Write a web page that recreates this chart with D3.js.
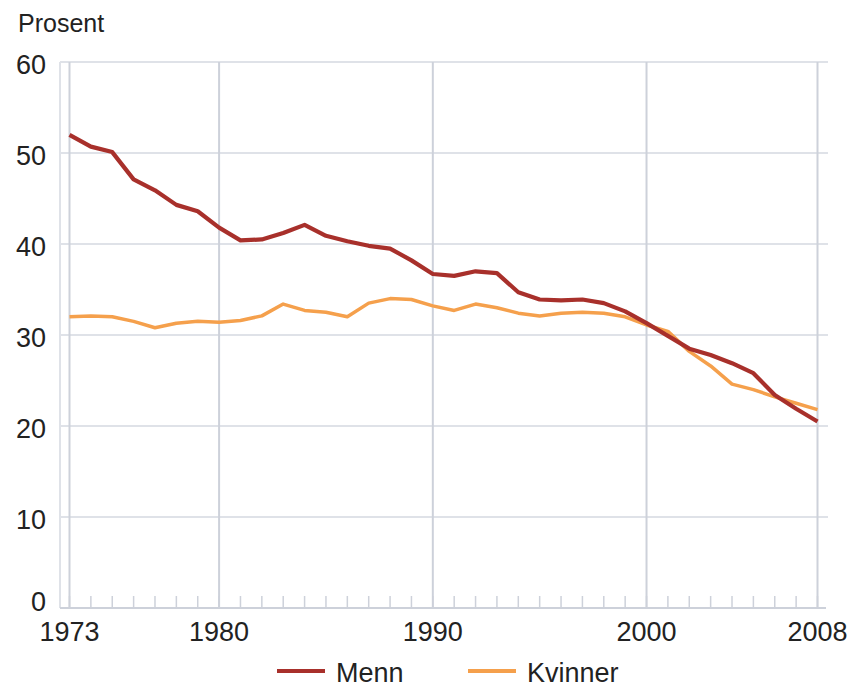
<!DOCTYPE html>
<html>
<head>
<meta charset="utf-8">
<script src="https://cdn.jsdelivr.net/npm/d3@7"></script>
<style>
  html, body { margin: 0; padding: 0; background: #fff; }
  svg { display: block; }
  text { font-family: "Liberation Sans", Arial, sans-serif; fill: #222; }
</style>
</head>
<body>
<svg id="chart" width="852" height="696"></svg>
<script>
const years = d3.range(1973, 2009);
const menn = [52.0, 50.7, 50.1, 47.1, 45.9, 44.3, 43.6, 41.8, 40.4, 40.5,
              41.2, 42.1, 40.9, 40.3, 39.8, 39.5, 38.2, 36.7, 36.5, 37.0,
              36.8, 34.7, 33.9, 33.8, 33.9, 33.5, 32.6, 31.3, 29.9, 28.5,
              27.8, 26.9, 25.8, 23.4, 21.9, 20.5];
const kvinner = [32.0, 32.1, 32.0, 31.5, 30.8, 31.3, 31.5, 31.4, 31.6, 32.1,
                 33.4, 32.7, 32.5, 32.0, 33.5, 34.0, 33.9, 33.2, 32.7, 33.4,
                 33.0, 32.4, 32.1, 32.4, 32.5, 32.4, 32.0, 31.1, 30.4, 28.2,
                 26.6, 24.6, 24.0, 23.2, 22.5, 21.8];
const xTickYears = [1973, 1980, 1990, 2000, 2008];
const yTicks = [0, 10, 20, 30, 40, 50, 60];
const seriesNames = ["Menn", "Kvinner"];
const colors = ["#a8302b", "#f5a04c"];

(function () {
const svg = d3.select("#chart");
const pLeft = 60, pRight = 828, pTop = 62, pBottom = 608;
const x = d3.scaleLinear().domain([1973, 2008]).range([69.5, 817.5]);
const y = d3.scaleLinear().domain([0, 60]).range([pBottom, pTop]);

// horizontal grid lines
svg.append("g").selectAll("line").data(yTicks.filter(d => d > 0)).join("line")
  .attr("x1", pLeft).attr("x2", pRight)
  .attr("y1", d => y(d)).attr("y2", d => y(d))
  .attr("stroke", "#dfe2e8").attr("stroke-width", 2);

// left frame line
svg.append("line").attr("x1", pLeft).attr("x2", pLeft)
  .attr("y1", pTop).attr("y2", pBottom)
  .attr("stroke", "#dfe2e8").attr("stroke-width", 2);

// vertical grid lines
svg.append("g").selectAll("line").data(xTickYears).join("line")
  .attr("x1", d => x(d)).attr("x2", d => x(d))
  .attr("y1", pTop).attr("y2", pBottom)
  .attr("stroke", "#cdd1da").attr("stroke-width", 2);

// small year ticks
svg.append("g").selectAll("line").data(years).join("line")
  .attr("x1", d => x(d)).attr("x2", d => x(d))
  .attr("y1", pBottom - 12).attr("y2", pBottom)
  .attr("stroke", "#cdd1da").attr("stroke-width", 1.5);

// baseline
svg.append("line").attr("x1", pLeft).attr("x2", pRight - 2)
  .attr("y1", pBottom).attr("y2", pBottom)
  .attr("stroke", "#cdd1da").attr("stroke-width", 2);

// y labels
svg.append("g").selectAll("text").data(yTicks).join("text")
  .attr("x", 46).attr("y", d => d === 0 ? 610.5 : y(d) + 12)
  .attr("text-anchor", "end").attr("font-size", 27)
  .text(d => d);

// x labels
svg.append("g").selectAll("text").data(xTickYears).join("text")
  .attr("x", d => x(d)).attr("y", 641)
  .attr("text-anchor", "middle").attr("font-size", 27)
  .text(d => d);

svg.append("text").attr("x", 18).attr("y", 32).attr("font-size", 25)
  .attr("fill", "#333").text("Prosent");

const line = d3.line().x((d, i) => x(years[i])).y(d => y(d));
svg.append("path").datum(kvinner).attr("d", line)
  .attr("fill", "none").attr("stroke", colors[1]).attr("stroke-width", 3.5)
  .attr("stroke-linejoin", "round");
svg.append("path").datum(menn).attr("d", line)
  .attr("fill", "none").attr("stroke", colors[0]).attr("stroke-width", 4.2)
  .attr("stroke-linejoin", "round");

// legend
const legendX = [277, 468];
seriesNames.forEach((name, i) => {
  svg.append("line").attr("x1", legendX[i]).attr("x2", legendX[i] + 48)
    .attr("y1", 671).attr("y2", 671)
    .attr("stroke", colors[i]).attr("stroke-width", 4);
  svg.append("text").attr("x", legendX[i] + 59).attr("y", 682)
    .attr("font-size", 27).text(name);
});
})();
</script>
</body>
</html>
